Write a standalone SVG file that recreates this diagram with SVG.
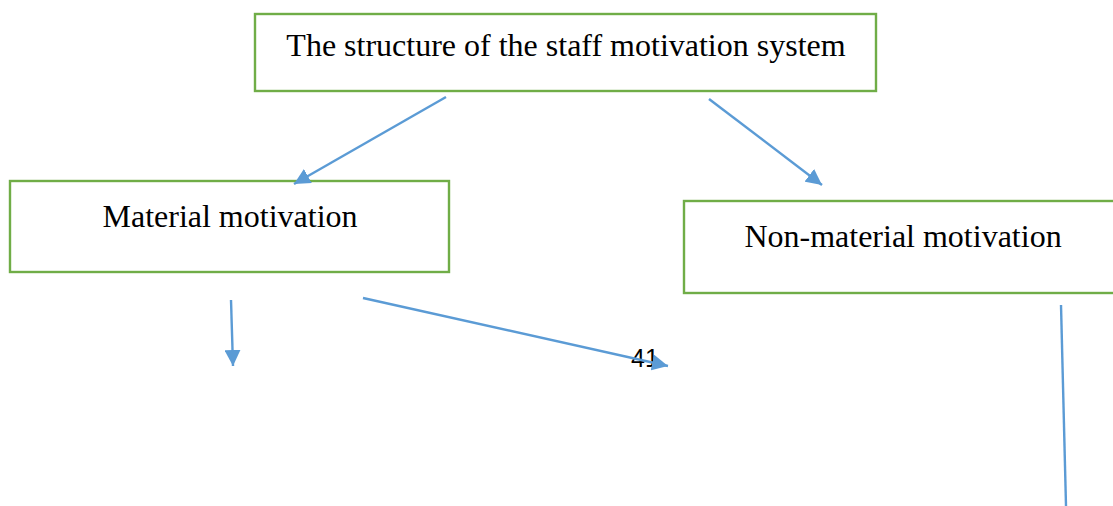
<svg xmlns="http://www.w3.org/2000/svg" width="1113" height="506" viewBox="0 0 1113 506">
  <style>
    .box { fill: #ffffff; stroke: #70AD47; stroke-width: 2.4; }
    .label { font-family: "Liberation Serif", "Times New Roman", serif; font-size: 32px; fill: #000000; text-anchor: middle; }
    .link { stroke: #5B9BD5; stroke-width: 2.4; fill: none; }
    .num { font-family: "Liberation Sans", Arial, sans-serif; font-size: 25px; fill: #000000; }
  </style>
  <defs>
    <marker id="arrow" markerUnits="userSpaceOnUse" markerWidth="18" markerHeight="16" refX="16" refY="8" orient="auto">
      <path d="M0,0 L16,8 L0,16 Z" fill="#5B9BD5"/>
    </marker>
  </defs>
  <rect width="1113" height="506" fill="#ffffff"/>

  <g id="node-structure">
    <rect class="box" x="255" y="14" width="621" height="77"/>
    <text class="label" x="566" y="56">The structure of the staff motivation system</text>
  </g>

  <g id="node-material">
    <rect class="box" x="10" y="181" width="439" height="91"/>
    <text class="label" x="230" y="227">Material motivation</text>
  </g>

  <g id="node-nonmaterial">
    <rect class="box" x="684" y="201" width="440" height="92"/>
    <text class="label" x="903" y="247">Non-material motivation</text>
  </g>

  <text class="num" x="631" y="367">41</text>

  <g id="connectors">
    <line class="link" x1="446" y1="97" x2="294" y2="184" marker-end="url(#arrow)"/>
    <line class="link" x1="709" y1="99" x2="822" y2="185" marker-end="url(#arrow)"/>
    <line class="link" x1="231" y1="300" x2="233" y2="366" marker-end="url(#arrow)"/>
    <line class="link" x1="363" y1="298" x2="668" y2="366" marker-end="url(#arrow)"/>
    <line class="link" x1="1061" y1="305" x2="1066" y2="506"/>
  </g>
</svg>
